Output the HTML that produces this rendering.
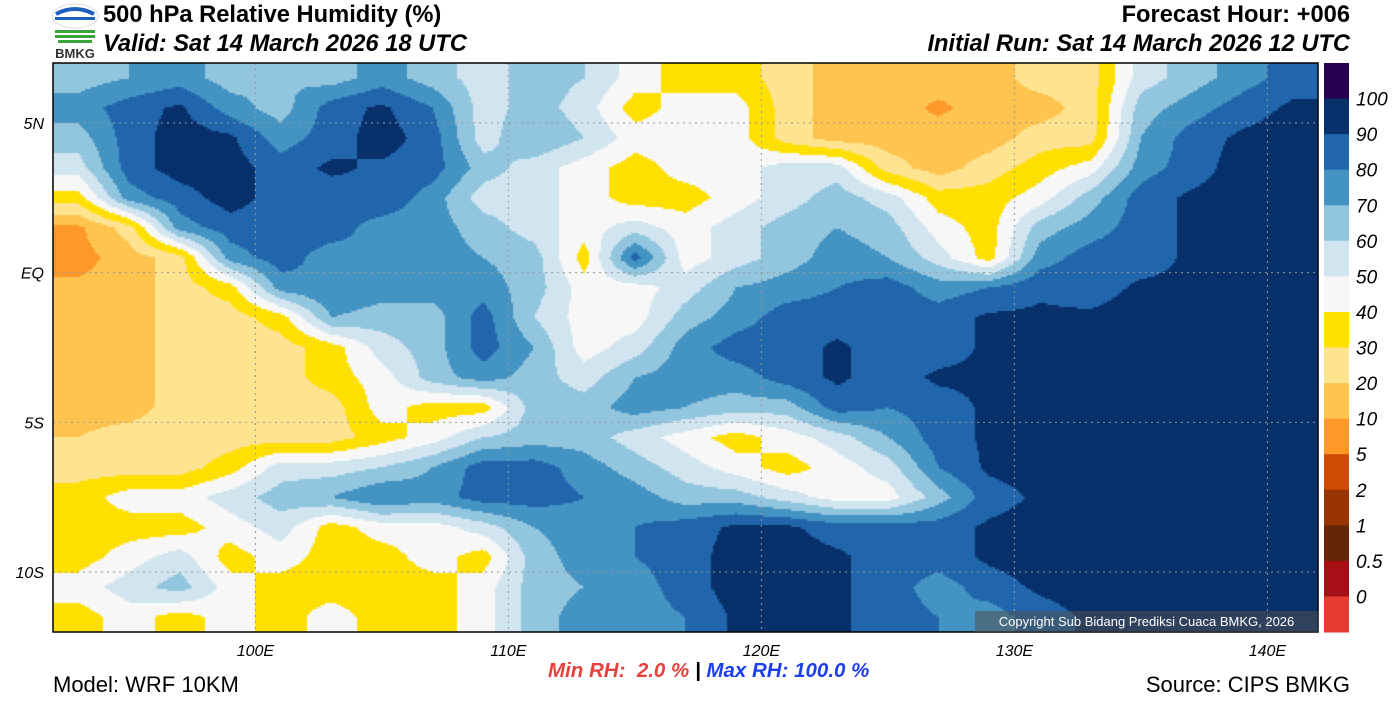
<!DOCTYPE html>
<html><head><meta charset="utf-8"><style>
body{margin:0;width:1400px;height:709px;background:#fff;font-family:"Liberation Sans",sans-serif;overflow:hidden;position:relative}
.t{position:absolute;white-space:nowrap;color:#000}
</style></head><body>
<svg style="position:absolute;left:50px;top:2px" width="50" height="58">
<ellipse cx="25" cy="14" rx="23" ry="12" fill="#fff" stroke="#ddd"/>
<path d="M6 12 Q25 2 44 12" stroke="#1f5fbf" stroke-width="4" fill="none"/>
<rect x="5" y="15" width="40" height="3" fill="#1f5fbf"/>
<rect x="5" y="28" width="40" height="3" fill="#3aa53a"/><rect x="5" y="33" width="40" height="3" fill="#3aa53a"/><rect x="8" y="38" width="34" height="3" fill="#3aa53a"/>
<text x="25" y="56" font-size="13" font-weight="bold" text-anchor="middle" font-family="Liberation Sans" fill="#333">BMKG</text></svg>
<div class="t" style="left:103px;top:2px;font-size:23.7px;font-weight:bold">500 hPa Relative Humidity (%)</div>
<div class="t" style="left:103px;top:31px;font-size:23.7px;font-style:italic;font-weight:bold">Valid: Sat 14 March 2026 18 UTC</div>
<div class="t" style="right:50px;top:2px;font-size:23.7px;font-weight:bold">Forecast Hour: +006</div>
<div class="t" style="right:50px;top:31px;font-size:23.7px;font-style:italic;font-weight:bold">Initial Run: Sat 14 March 2026 12 UTC</div>
<canvas id="map" width="1265" height="569" style="position:absolute;left:53px;top:63px"></canvas>
<svg id="ov" width="1400" height="709" style="position:absolute;left:0;top:0"></svg>
<div class="t" style="left:975px;top:611px;width:343px;height:21px;background:rgba(80,80,80,0.55);color:#fff;font-size:13px;line-height:21px;text-align:center">Copyright Sub Bidang Prediksi Cuaca BMKG, 2026</div>
<div class="t" style="left:53px;top:672px;font-size:22px">Model: WRF 10KM</div>
<div class="t" style="right:50px;top:672px;font-size:22px">Source: CIPS BMKG</div>
<div class="t" style="left:548px;top:659px;font-size:20.5px;font-style:italic;font-weight:bold"><span style="color:#e8413b">Min RH:&nbsp;&nbsp;2.0 %</span> <span style="color:#000">|</span> <span style="color:#1e3ff0">Max RH: 100.0 %</span></div>
<script>
const lonCenters=[93,95,97,99,101,103,105,107,109,111,113,115,117,119,121,123,125,127,129,131,133,135,137,139,141];
const latCenters=[6.5,5.5,4.5,3.5,2.5,1.5,0.5,-0.5,-1.5,-2.5,-3.5,-4.5,-5.5,-6.5,-7.5,-8.5,-9.5,-10.5,-11.5];
const rh=[
[65,70,75,65,70,65,75,65,55,65,60,45,35,35,25,15,15,15,15,25,25,55,65,75,85],
[75,85,92,75,65,85,92,80,55,65,55,35,45,45,25,15,15,8,15,15,25,65,75,85,92],
[65,85,95,92,75,85,95,85,55,70,60,45,45,45,25,15,15,15,15,25,25,70,85,92,95],
[55,85,95,95,85,92,88,85,65,55,45,35,45,45,55,55,25,15,25,35,45,75,85,95,95],
[35,75,85,95,85,85,88,75,55,55,45,35,35,45,55,65,55,35,35,45,65,85,92,95,95],
[8,25,75,85,85,85,75,75,65,55,45,55,45,55,65,70,65,45,35,65,75,85,92,95,95],
[6,15,25,75,85,75,80,75,70,65,35,85,45,55,65,75,70,55,35,75,85,85,92,95,95],
[12,15,25,35,75,80,75,75,75,65,45,45,55,70,75,80,85,75,80,88,85,92,92,95,95],
[15,15,25,25,35,70,65,65,85,60,45,45,65,75,85,85,85,85,92,92,92,95,95,95,95],
[15,15,25,25,25,35,55,65,85,70,45,55,75,85,85,92,85,85,92,95,95,95,95,95,95],
[15,15,25,25,25,35,45,65,75,65,55,70,75,75,85,92,85,92,92,95,95,95,95,95,95],
[15,15,25,25,25,25,45,35,35,65,65,75,70,65,65,85,80,85,92,95,95,95,95,95,95],
[20,25,25,25,25,25,35,45,60,65,65,55,45,35,45,55,70,85,92,95,95,95,95,95,95],
[25,25,25,35,55,55,60,70,85,85,75,65,55,45,35,45,55,80,92,95,95,95,95,95,95],
[35,45,45,55,65,70,80,75,85,85,80,75,65,65,55,45,45,65,85,92,95,95,95,95,95],
[35,35,35,45,55,35,45,45,55,70,75,80,85,92,92,85,85,85,92,95,95,95,95,95,95],
[35,45,55,35,45,35,35,45,35,65,75,80,85,95,95,92,85,85,92,95,95,95,95,95,95],
[45,55,65,45,35,35,35,35,45,65,70,75,85,95,92,92,85,75,85,92,95,95,95,95,95],
[35,45,35,45,35,45,35,35,45,65,75,75,80,92,92,92,85,80,75,85,92,95,95,95,95]];
const levels=[0,0.5,1,2,5,10,20,30,40,50,60,70,80,90,100];
const levelLabels=["0","0.5","1","2","5","10","20","30","40","50","60","70","80","90","100"];
const colors=["#e53b30","#a50f15","#662506","#993404","#cc4c02","#fe9929","#fec44f","#fee391","#ffe000","#f7f7f7","#d1e5f0","#92c5de","#4393c3","#2166ac","#08306b","#2a0050"];
const lonTicks=[100,110,120,130,140], latTicks=[5,0,-5,-10];
const lon0=92,lon1=142,lat0=7,lat1=-12,X0=53,Y0=63,W=1265,H=569;
function xs(lon){return X0+(lon-lon0)/(lon1-lon0)*W}
function ys(lat){return Y0+(lat-lat0)/(lat1-lat0)*H}
function col(v){let i=0;while(i<levels.length&&v>=levels[i])i++;return colors[i]}
function val(lon,lat){
 let fi=(lon-lonCenters[0])/(lonCenters[1]-lonCenters[0]), fj=(lat-latCenters[0])/(latCenters[1]-latCenters[0]);
 fi=Math.max(0,Math.min(lonCenters.length-1.001,fi)); fj=Math.max(0,Math.min(latCenters.length-1.001,fj));
 const i=Math.floor(fi),j=Math.floor(fj),a=fi-i,b=fj-j;
 return rh[j][i]*(1-a)*(1-b)+rh[j][i+1]*a*(1-b)+rh[j+1][i]*(1-a)*b+rh[j+1][i+1]*a*b;
}
const ctx=document.getElementById('map').getContext('2d');const s=2;
for(let py=0;py<H;py+=s)for(let px=0;px<W;px+=s){
 const lon=lon0+(px+s/2)/W*(lon1-lon0),lat=lat0+(py+s/2)/H*(lat1-lat0);
 ctx.fillStyle=col(val(lon,lat));ctx.fillRect(px,py,s,s);}
const ov=document.getElementById('ov');const NS='http://www.w3.org/2000/svg';
function mk(t,a){const e=document.createElementNS(NS,t);for(const k in a)e.setAttribute(k,a[k]);ov.appendChild(e);return e}
lonTicks.forEach(l=>{const x=xs(l);
 const g=mk('line',{x1:x,x2:x,y1:Y0,y2:Y0+H,stroke:'#999','stroke-dasharray':'2,4','stroke-width':1});
 
 
 const t=mk('text',{x:x,y:656,'font-size':16,'font-style':'italic','text-anchor':'middle','font-family':'Liberation Sans'});t.textContent=l+'E';
 
 });
latTicks.forEach(l=>{const y=ys(l);
 const g=mk('line',{x1:X0,x2:X0+W,y1:y,y2:y,stroke:'#999','stroke-dasharray':'2,4','stroke-width':1});
 
 
 const t=mk('text',{x:44,y:y+6,'font-size':16,'font-style':'italic','text-anchor':'end','font-family':'Liberation Sans'});t.textContent=l>0?l+'N':l<0?(-l)+'S':'EQ';
 
 });
const fr=mk('rect',{x:X0,y:Y0,width:W,height:H,fill:'none',stroke:'#000','stroke-width':1.5});


const cbTop=63,cbH=569/colors.length;
colors.slice().reverse().forEach((c,i)=>{const r=mk('rect',{x:1324,y:cbTop+i*cbH,width:25,height:cbH+0.5,fill:c});
 
 });
levelLabels.slice().reverse().forEach((l,i)=>{const t=mk('text',{x:1356,y:cbTop+(i+1)*cbH+7,'font-size':19,'font-style':'italic','font-family':'Liberation Sans'});t.textContent=l;
 
 });
</script>
</body></html>
